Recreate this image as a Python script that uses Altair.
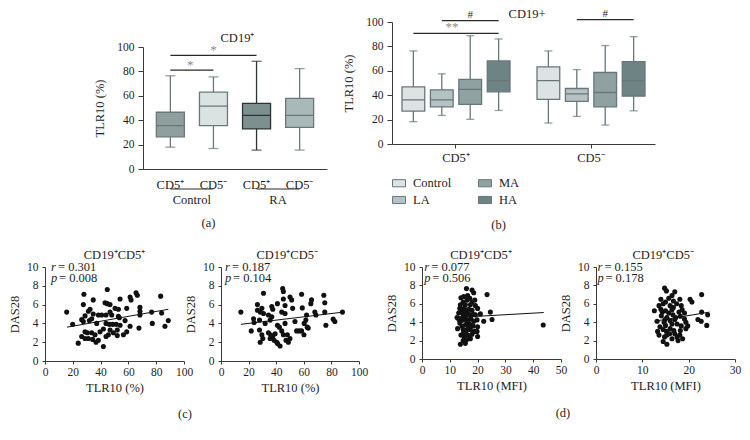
import altair as alt
import pandas as pd

FONT = "Liberation Serif"
INK = "#1e1e1e"
AXC = "#3a3a3a"
W, H = 734, 424  # drawing area (page minus the 8px margin)

# ---------------- panel (a) ----------------
a_groups = ["Control", "Control", "RA", "RA"]
a_subsets = ["CD5⁺", "CD5⁻", "CD5⁺", "CD5⁻"]
a_min = [17.9, 16.8, 15.5, 15.5]
a_q1 = [26.4, 35.6, 32.9, 34.2]
a_med = [35.6, 51.6, 44.0, 44.0]
a_q3 = [46.5, 63.0, 53.8, 57.9]
a_max = [76.4, 75.5, 88.3, 82.3]
a_fill = ["#8e9f9e", "#dbe2e2", "#7c908f", "#a9b8b9"]
a_line = ["#6b7879", "#6b7879", "#2c3434", "#6b7879"]
a_sig_from = [0, 0]
a_sig_to = [1, 2]
a_sig_y = [81.0, 93.2]
a_star_y = [82.3, 94.5]
a_group_label_y = -25.4
a_underline_y = -16.4
a_title_y = 107.4
a_letter_y = -44.3

# ---------------- panel (b) ----------------
b_groups = ["Control", "LA", "MA", "HA"]
b_subsets = ["CD5⁺", "CD5⁻"]
b_fill = ["#dde3e3", "#b5c2c3", "#8fa2a1", "#6e8384"]
b_min_p = [18.3, 23.4, 20.2, 27.5]
b_q1_p = [27.0, 30.5, 32.4, 42.8]
b_med_p = [36.2, 36.2, 44.7, 52.0]
b_q3_p = [46.9, 44.4, 52.9, 68.1]
b_max_p = [76.3, 57.5, 88.8, 86.1]
b_min_n = [17.2, 22.6, 15.5, 27.2]
b_q1_n = [36.5, 34.9, 30.5, 39.2]
b_med_n = [52.0, 41.1, 42.2, 52.0]
b_q3_n = [63.2, 45.5, 58.6, 67.6]
b_max_n = [76.3, 61.0, 80.7, 88.0]
b_sig_subset = ["CD5⁺", "CD5⁺", "CD5⁻"]
b_sig_from = ["Control", "LA", "LA"]
b_sig_to = ["HA", "HA", "HA"]
b_sig_y = [90.7, 101.1, 102.0]
b_mark_subset = ["CD5⁺", "CD5⁻"]
b_mark_y = [103.4, 104.2]
b_star_y = 92.3
b_title_y = 106.2
b_letter_y = -66.4

# ---------------- panels (c), (d) ----------------
c1_x = [28, 44.8, 65.5, 66.4, 83.2, 54, 61.2, 61.9, 34.7,
        27.6, 43.2, 44.8, 46.8, 50.4, 52.8, 58.8, 68.3, 68.3,
        15.6, 28.8, 31.2, 32.4, 34.7, 38.4, 40.8, 43.9, 46.8, 48, 52.8, 53.5, 57.6, 76.7, 83.9, 68.3,
        19.9, 26.4, 27.6, 31.9, 33.6, 37.2, 43.9, 46.3, 48.7, 51.2, 54, 61.2, 67.6, 77.2, 86.3, 88.7,
        28.8, 30.5, 33.6, 36, 39.6, 42, 46.8, 49.2, 52, 56.4, 58.8, 52,
        26.4, 28.8, 31.2, 34.3, 36.7, 38.4, 43.9, 45.6, 23.9, 42]
c1_y = [7.1, 7.6, 7.25, 7.0, 6.9, 6.6, 6.8, 6.5, 6.5,
        6.0, 6.2, 6.1, 6.0, 5.6, 5.5, 5.6, 5.7, 5.3,
        5.2, 4.8, 5.3, 5.5, 5.0, 4.9, 4.9, 4.9, 5.2, 4.9, 4.75, 4.6, 4.3, 5.2, 5.1, 4.9,
        3.9, 4.4, 4.2, 4.3, 4.5, 4.0, 4.0, 3.9, 3.9, 3.9, 3.8, 3.7, 3.5, 4.0, 3.7, 4.3,
        3.1, 3.0, 3.0, 2.8, 3.1, 3.4, 3.3, 3.0, 3.3, 2.8, 3.1, 2.7,
        2.6, 2.4, 2.4, 2.3, 2.0, 2.2, 2.6, 2.8, 1.9, 1.55]
c1_fit_x = [15.9, 88.7]
c1_fit_y = [3.6, 5.5]

c2_x = [14.4, 30.8, 44.7, 45.2, 45.2, 50, 51.2, 58.4, 74.5, 40.9, 26.4, 36.8, 37.5, 46.4, 51.9,
        58.9, 65.6, 65.1, 75.2, 26.4, 28.4, 29.6, 30.8, 34.4, 36.8, 44, 46.4, 62, 68, 68.8,
        75.2, 23.6, 24, 27.9, 32, 35.6, 40.9, 42.3, 46.4, 53.6, 60.3, 61.5, 62.5, 63.2, 76,
        81.3, 82.5, 88, 21.9, 27.9, 29.6, 34.4, 36.1, 37.5, 39.2, 44, 45.2, 48.1, 54.8, 56.7,
        58.4, 60.1, 28.4, 30.3, 35.6, 38.5, 40.4, 41.0, 42.8, 47.1, 48.8, 50]
c2_y = [5.2, 7.2, 7.7, 7.4, 6.6, 6.8, 6.5, 7.1, 7.0, 6.1, 6.0, 5.8, 5.5, 5.9, 5.6,
        5.65, 6.5, 6.1, 6.2, 5.4, 5.2, 5.6, 5.05, 4.9, 4.7, 5.2, 5.05, 4.9, 5.2, 4.9,
        5.2, 4.5, 4.1, 4.35, 4.0, 4.35, 3.8, 3.6, 4.0, 4.2, 4.0, 4.35, 3.6, 3.5, 3.8,
        4.45, 4.2, 5.2, 3.2, 3.3, 2.8, 3.0, 2.75, 2.6, 2.9, 3.2, 2.8, 2.8, 3.2, 3.2,
        3.2, 2.8, 2.0, 2.4, 2.4, 2.2, 2.0, 1.85, 1.6, 2.2, 2.0, 2.4]
c2_fit_x = [14.4, 88.5]
c2_fit_y = [3.9, 5.2]

d1_x = [16.0, 18.0, 18.6, 23.4, 14.0, 16.4, 17.2, 14.8, 18.0, 19.0, 15.6, 17.4, 19.2, 13.6,
        14.4, 15.2, 16.8, 20.0, 24.6, 13.2, 14.8, 16.0, 17.2, 18.4, 13.8, 15.0, 16.4, 17.6,
        19.8, 22.2, 25.2, 13.6, 15.6, 16.8, 18.4, 20.0, 12.8, 14.8, 16.0, 17.4, 18.8, 14.0,
        15.2, 16.4, 18.0, 20.0, 14.8, 16.0, 17.4, 13.8, 43.6, 15.0, 16.4, 15.6, 16.8, 14.4,
        18.0, 16.2, 15.0, 13.8, 19.2, 17.2, 15.0, 13.3, 18.6, 16.4, 17.6, 21.0, 14.4, 16.0,
        19.8, 12.6, 15.6]
d1_y = [7.65, 7.5, 7.2, 7.0, 6.65, 6.9, 6.6, 6.2, 6.2, 6.4, 5.9, 5.9, 5.8, 5.5,
        5.3, 5.5, 5.4, 5.5, 5.1, 5.0, 4.85, 5.1, 4.8, 4.85, 4.4, 4.5, 4.25, 4.4,
        4.25, 4.1, 4.3, 3.9, 3.7, 3.9, 3.6, 3.5, 3.3, 3.2, 3.1, 3.2, 3.0, 2.6,
        2.45, 2.6, 2.7, 2.45, 2.0, 2.1, 2.2, 1.6, 3.7, 5.15, 5.0, 4.65, 3.55, 3.55,
        5.3, 6.4, 6.8, 5.9, 4.8, 2.3, 2.9, 4.3, 4.1, 3.2, 3.7, 4.9, 4.2, 4.15,
        3.0, 4.5, 1.7]
d1_fit_x = [17.6, 43.8]
d1_fit_y = [4.6, 5.05]

d2_x = [14.8, 15.2, 17.0, 22.8, 20.3, 20.7, 16.4, 14.0, 15.7, 16.7, 18.1, 14.5, 16.0, 17.4,
        18.4, 12.6, 14.0, 15.0, 16.4, 17.9, 18.6, 22.8, 24.1, 14.1, 15.3, 16.6, 17.2, 18.2,
        19.1, 13.2, 14.7, 16.0, 17.5, 19.4, 19.8, 22.0, 22.7, 23.9, 14.5, 15.2, 16.0, 17.0,
        18.2, 13.6, 14.8, 15.3, 16.4, 17.5, 18.1, 18.7, 14.5, 15.3, 19.4, 14.3, 15.7, 17.0,
        15.0, 16.4, 13.8, 16.8, 15.9, 17.7, 18.4, 16.7, 15.0, 13.6, 19.1, 13.3, 14.9]
d2_y = [7.7, 7.4, 7.3, 7.0, 6.5, 6.2, 6.9, 6.5, 6.6, 6.3, 6.5, 6.0, 5.8, 6.0,
        5.8, 5.25, 5.4, 5.25, 5.35, 5.1, 5.35, 5.1, 4.8, 4.7, 4.5, 4.8, 4.5, 4.65,
        4.35, 4.1, 4.0, 4.15, 3.8, 4.0, 3.6, 4.3, 4.1, 3.65, 3.2, 3.0, 3.3, 2.75,
        3.1, 2.6, 2.4, 2.6, 2.2, 2.4, 2.6, 2.2, 1.9, 1.6, 3.3, 5.1, 5.0, 4.3,
        3.65, 3.8, 3.5, 3.1, 2.75, 2.0, 3.6, 5.6, 6.2, 5.8, 5.0, 3.0, 4.3]
d2_fit_x = [12.6, 24.5]
d2_fit_y = [4.1, 5.1]

stats_text = {
    "c1": ("= 0.301", "= 0.008"),
    "c2": ("= 0.187", "= 0.104"),
    "d1": ("= 0.077", "= 0.506"),
    "d2": ("= 0.155", "= 0.178"),
}
stats_x = {"c1": 4.3, "c2": 2.9, "d1": 0.8, "d2": 0.3}
stats_y = [10.0, 8.85]
scatter_titles = {"c1": "CD19⁺CD5⁺", "c2": "CD19⁺CD5⁻", "d1": "CD19⁺CD5⁺", "d2": "CD19⁺CD5⁻"}
scatter_title_x = {"c1": 50, "c2": 48, "d1": 21.2, "d2": 14.5}
scatter_title_y = 11.3
letters = {"c1": ("(c)", 100.7, -5.6), "d1": ("(d)", 50.7, -5.9)}

# panel frames in drawing-area pixels: (left, right, bottom, top)
FRAME = {
    "a": (135, 319, 161, 39),
    "b": (384, 647, 136, 14),
    "c1": (37, 176, 353, 259),
    "c2": (213, 351, 353, 259),
    "d1": (414, 553, 351, 259),
    "d2": (588, 727, 351, 259),
}


def yaxis(frame, title, values, tick=5, lpad=4, tpad=10):
    return alt.Axis(orient="left", offset=-frame[0], values=values, title=title, tickSize=tick,
                    labelPadding=lpad, titlePadding=tpad)


# ---------------- build (a) ----------------
fa = FRAME["a"]
a_keys = [g + " " + s for g, s in zip(a_groups, a_subsets)]
dfA = pd.DataFrame({"key": a_keys, "lo": a_min, "q1": a_q1, "med": a_med, "q3": a_q3, "hi": a_max})
sxA = alt.Scale(domain=a_keys, paddingInner=0.35, paddingOuter=0.31, range=[fa[0], fa[1]])
syA = alt.Scale(domain=[0, 100], nice=False, range=[fa[2], fa[3]])
axA = alt.Axis(orient="bottom", offset=fa[2] - H, title=None,
               labelExpr="split(datum.label, ' ')[1]", ticks=False, labelAngle=0,
               labelPadding=9, labelFontSize=12.5)
ayA = yaxis(fa, "TLR10 (%)", [0, 20, 40, 60, 80, 100])


def XA():
    return alt.X("key:N", sort=a_keys, scale=sxA, axis=axA)


def YA(field):
    return alt.Y(field, scale=syA, axis=ayA)


strokeA = alt.Stroke("key:N", scale=alt.Scale(domain=a_keys, range=a_line), legend=None)
capColA = alt.Color("key:N", scale=alt.Scale(domain=a_keys, range=a_line), legend=None)
fillA = alt.Fill("key:N", scale=alt.Scale(domain=a_keys, range=a_fill), legend=None)
baseA = alt.Chart(dfA)
whiskA = baseA.mark_rule(strokeWidth=1.3).encode(x=XA(), y=YA("lo:Q"), y2="hi:Q", stroke=strokeA)
capLoA = baseA.mark_tick(size=10, thickness=1.3).encode(x=XA(), y=YA("lo:Q"), color=capColA)
capHiA = baseA.mark_tick(size=10, thickness=1.3).encode(x=XA(), y=YA("hi:Q"), color=capColA)
boxA = baseA.mark_bar(strokeWidth=1.3).encode(x=XA(), y=YA("q1:Q"), y2="q3:Q", fill=fillA,
                                              stroke=strokeA)
medA = baseA.mark_bar(strokeWidth=1.3).encode(x=XA(), y=YA("med:Q"), y2="med:Q", stroke=strokeA)

sigA = pd.DataFrame({
    "key": [a_keys[i] for pair in zip(a_sig_from, a_sig_to) for i in pair],
    "y": [v for v in a_sig_y for _ in (0, 1)],
    "id": [i for i in range(len(a_sig_y)) for _ in (0, 1)],
})
sigLineA = alt.Chart(sigA).mark_line(color="#2a2a2a", strokeWidth=1.2).encode(
    x=XA(), y=YA("y:Q"), detail="id:N")
starA1 = alt.Chart(pd.DataFrame({"key": [a_keys[0]], "y": [a_star_y[0]], "t": ["*"]})).mark_text(
    font=FONT, fontSize=13, color="#8a8a8a", baseline="alphabetic", dx=20).encode(
    x=XA(), y=YA("y:Q"), text="t:N")
starA2 = alt.Chart(pd.DataFrame({"key": [a_keys[1]], "y": [a_star_y[1]], "t": ["*"]})).mark_text(
    font=FONT, fontSize=13, color="#8a8a8a", baseline="alphabetic").encode(
    x=XA(), y=YA("y:Q"), text="t:N")
grpA = pd.DataFrame({"key": [a_keys[0], a_keys[2]], "y": [a_group_label_y] * 2,
                     "t": [a_groups[0], a_groups[2]]})
grpTextA = alt.Chart(grpA).mark_text(font=FONT, fontSize=12.5, color=INK, dx=21.5,
                                     baseline="middle").encode(x=XA(), y=YA("y:Q"), text="t:N")
ulA = pd.DataFrame({"key": a_keys, "y": [a_underline_y] * 4, "id": a_groups})
ulLineA = alt.Chart(ulA).mark_line(color="#2a2a2a", strokeWidth=1.1).encode(
    x=XA(), y=YA("y:Q"), detail="id:N")
titleA = alt.Chart(pd.DataFrame({"key": [a_keys[1]], "y": [a_title_y], "t": ["CD19⁺"]})).mark_text(
    font=FONT, fontSize=12.5, color=INK, baseline="middle", dx=24).encode(
    x=XA(), y=YA("y:Q"), text="t:N")
letterA = alt.Chart(pd.DataFrame({"key": [a_keys[1]], "y": [a_letter_y], "t": ["(a)"]})).mark_text(
    font=FONT, fontSize=12.5, color=INK, baseline="middle", dx=-5).encode(
    x=XA(), y=YA("y:Q"), text="t:N")

panelA = alt.layer(whiskA, capLoA, capHiA, boxA, medA, sigLineA, starA1, starA2,
                   ulLineA, grpTextA, titleA, letterA)

# ---------------- build (b) ----------------
fb = FRAME["b"]
rows = []
for s, lo, q1, md, q3, hi in [("CD5⁺", b_min_p, b_q1_p, b_med_p, b_q3_p, b_max_p),
                              ("CD5⁻", b_min_n, b_q1_n, b_med_n, b_q3_n, b_max_n)]:
    for i, g in enumerate(b_groups):
        rows.append({"subset": s, "group": g, "lo": lo[i], "q1": q1[i], "med": md[i],
                     "q3": q3[i], "hi": hi[i]})
dfB = pd.DataFrame(rows)
sxB = alt.Scale(domain=b_subsets, paddingInner=0.2, paddingOuter=0.074, range=[fb[0], fb[1]])
axB = alt.Axis(orient="bottom", offset=fb[2] - H, title=None, labelAngle=0, tickSize=4,
               labelPadding=3, labelFontSize=12.5)
syB = alt.Scale(domain=[0, 100], nice=False, range=[fb[2], fb[3]])
ayB = yaxis(fb, "TLR10 (%)", [0, 20, 40, 60, 80, 100])


def XB():
    return alt.X("subset:N", sort=b_subsets, scale=sxB, axis=axB)


def XOB():
    return alt.XOffset("group:N", sort=b_groups,
                       scale=alt.Scale(domain=b_groups, paddingInner=0.2, paddingOuter=0))


def YB(field):
    return alt.Y(field, scale=syB, axis=ayB)


BSTROKE = "#68777a"
baseB = alt.Chart(dfB)
whiskB = baseB.mark_rule(strokeWidth=1.3, color=BSTROKE).encode(
    x=XB(), xOffset=XOB(), y=YB("lo:Q"), y2="hi:Q")
capLoB = baseB.mark_tick(size=8, thickness=1.3, color=BSTROKE).encode(
    x=XB(), xOffset=XOB(), y=YB("lo:Q"))
capHiB = baseB.mark_tick(size=8, thickness=1.3, color=BSTROKE).encode(
    x=XB(), xOffset=XOB(), y=YB("hi:Q"))
boxB = baseB.mark_bar(stroke=BSTROKE, strokeWidth=1.3).encode(
    x=XB(), xOffset=XOB(), y=YB("q1:Q"), y2="q3:Q",
    fill=alt.Fill("group:N", scale=alt.Scale(domain=b_groups, range=b_fill),
                  legend=alt.Legend(title=None, orient="none", legendX=fb[0], legendY=168,
                                    columns=2, symbolType="M-1,-0.55H1V0.55H-1Z",
                                    symbolSize=169, symbolStrokeColor=BSTROKE,
                                    symbolStrokeWidth=1, labelFont=FONT, labelFontSize=12.5,
                                    labelColor=INK, labelOffset=7, columnPadding=24,
                                    rowPadding=3)))
medB = baseB.mark_bar(stroke=BSTROKE, strokeWidth=1.3).encode(
    x=XB(), xOffset=XOB(), y=YB("med:Q"), y2="med:Q")

sigRowsB = []
for k in range(len(b_sig_y)):
    sigRowsB.append({"subset": b_sig_subset[k], "group": b_sig_from[k], "y": b_sig_y[k], "id": k})
    sigRowsB.append({"subset": b_sig_subset[k], "group": b_sig_to[k], "y": b_sig_y[k], "id": k})
sigLineB = alt.Chart(pd.DataFrame(sigRowsB)).mark_line(color="#2a2a2a", strokeWidth=1.2).encode(
    x=XB(), xOffset=XOB(), y=YB("y:Q"), detail="id:N")
hashB = alt.Chart(pd.DataFrame({"subset": b_mark_subset, "group": ["MA", "MA"],
                                "y": b_mark_y, "t": ["#", "#"]})).mark_text(
    font=FONT, fontSize=11, color="#2a2a2a", baseline="alphabetic").encode(
    x=XB(), xOffset=XOB(), y=YB("y:Q"), text="t:N")
starB = alt.Chart(pd.DataFrame({"subset": ["CD5⁺"], "y": [b_star_y], "t": ["**"]})).mark_text(
    font=FONT, fontSize=13, color="#8a8a8a", baseline="alphabetic", dx=-4).encode(
    x=XB(), y=YB("y:Q"), text="t:N")
titleB = alt.Chart(pd.DataFrame({"subset": ["CD5⁺"], "y": [b_title_y], "t": ["CD19+"]})).mark_text(
    font=FONT, fontSize=12.5, color=INK, baseline="middle", dx=71).encode(
    x=XB(), y=YB("y:Q"), text="t:N")
letterB = alt.Chart(pd.DataFrame({"subset": ["CD5⁺"], "group": ["HA"], "y": [b_letter_y],
                                  "t": ["(b)"]})).mark_text(
    font=FONT, fontSize=12.5, color=INK, baseline="middle").encode(
    x=XB(), xOffset=XOB(), y=YB("y:Q"), text="t:N")

panelB = alt.layer(whiskB, capLoB, capHiB, boxB, medB, sigLineB, hashB, starB, titleB, letterB)


# ---------------- scatter panels ----------------
def scatter(key, xs, ys, fx, fy, xmax, xstep, xtitle):
    f = FRAME[key]
    sx = alt.Scale(domain=[0, xmax], nice=False, range=[f[0], f[1]])
    sy = alt.Scale(domain=[0, 10], nice=False, range=[f[2], f[3]])
    ax = alt.Axis(orient="bottom", offset=f[2] - H, values=list(range(0, xmax + 1, xstep)),
                  title=xtitle, tickSize=3, labelPadding=2, titlePadding=4)
    ay = yaxis(f, "DAS28", [0, 2, 4, 6, 8, 10], tick=3, lpad=4, tpad=5)

    def X(field):
        return alt.X(field, scale=sx, axis=ax)

    def Y(field):
        return alt.Y(field, scale=sy, axis=ay)

    pts = alt.Chart(pd.DataFrame({"x": xs, "y": ys})).mark_circle(
        size=26, color="#111111", opacity=1).encode(x=X("x:Q"), y=Y("y:Q"))
    fit = alt.Chart(pd.DataFrame({"x": fx, "y": fy})).mark_line(
        color="#111111", strokeWidth=1).encode(x=X("x:Q"), y=Y("y:Q"))
    sxv = stats_x[key]
    lab = alt.Chart(pd.DataFrame({"x": [sxv, sxv], "y": stats_y, "l": ["r", "p"],
                                  "v": list(stats_text[key])}))
    lett = lab.mark_text(align="left", baseline="middle", fontStyle="italic", font=FONT,
                         fontSize=12.5, color=INK).encode(x=X("x:Q"), y=Y("y:Q"), text="l:N")
    rest_r = lab.transform_filter("datum.l == 'r'").mark_text(
        align="left", baseline="middle", font=FONT, fontSize=12.5, color=INK, dx=7).encode(
        x=X("x:Q"), y=Y("y:Q"), text="v:N")
    rest_p = lab.transform_filter("datum.l == 'p'").mark_text(
        align="left", baseline="middle", font=FONT, fontSize=12.5, color=INK, dx=8).encode(
        x=X("x:Q"), y=Y("y:Q"), text="v:N")
    ttl = alt.Chart(pd.DataFrame({"x": [scatter_title_x[key]], "y": [scatter_title_y],
                                  "t": [scatter_titles[key]]})).mark_text(
        font=FONT, fontSize=12.5, color=INK, baseline="middle").encode(
        x=X("x:Q"), y=Y("y:Q"), text="t:N")
    layers = [pts, fit, lett, rest_r, rest_p, ttl]
    if key in letters:
        t, lx, ly = letters[key]
        layers.append(alt.Chart(pd.DataFrame({"x": [lx], "y": [ly], "t": [t]})).mark_text(
            font=FONT, fontSize=12.5, color=INK, baseline="middle").encode(
            x=X("x:Q"), y=Y("y:Q"), text="t:N"))
    return alt.layer(*layers)


c1 = scatter("c1", c1_x, c1_y, c1_fit_x, c1_fit_y, 100, 20, "TLR10 (%)")
c2 = scatter("c2", c2_x, c2_y, c2_fit_x, c2_fit_y, 100, 20, "TLR10 (%)")
d1 = scatter("d1", d1_x, d1_y, d1_fit_x, d1_fit_y, 50, 10, "TLR10 (MFI)")
d2 = scatter("d2", d2_x, d2_y, d2_fit_x, d2_fit_y, 30, 10, "TLR10 (MFI)")

chart = alt.layer(panelA, panelB, c1, c2, d1, d2).resolve_scale(
    x="independent", y="independent", fill="independent", stroke="independent",
    color="independent"
).resolve_axis(x="independent", y="independent").properties(
    width=W, height=H, padding=0, background="white",
    autosize=alt.AutoSizeParams(type="none")
).configure(font=FONT).configure_view(stroke=None).configure_axis(
    labelFont=FONT, titleFont=FONT, labelFontSize=11.5, titleFontSize=12.5,
    labelColor=INK, titleColor=INK, titleFontWeight="normal", domainColor=AXC,
    tickColor=AXC, grid=False, domainWidth=1, labelOverlap=False, labelFlush=False,
    labelBound=False
)

chart.save("out.html", embed_options={"renderer": "svg", "actions": False})
